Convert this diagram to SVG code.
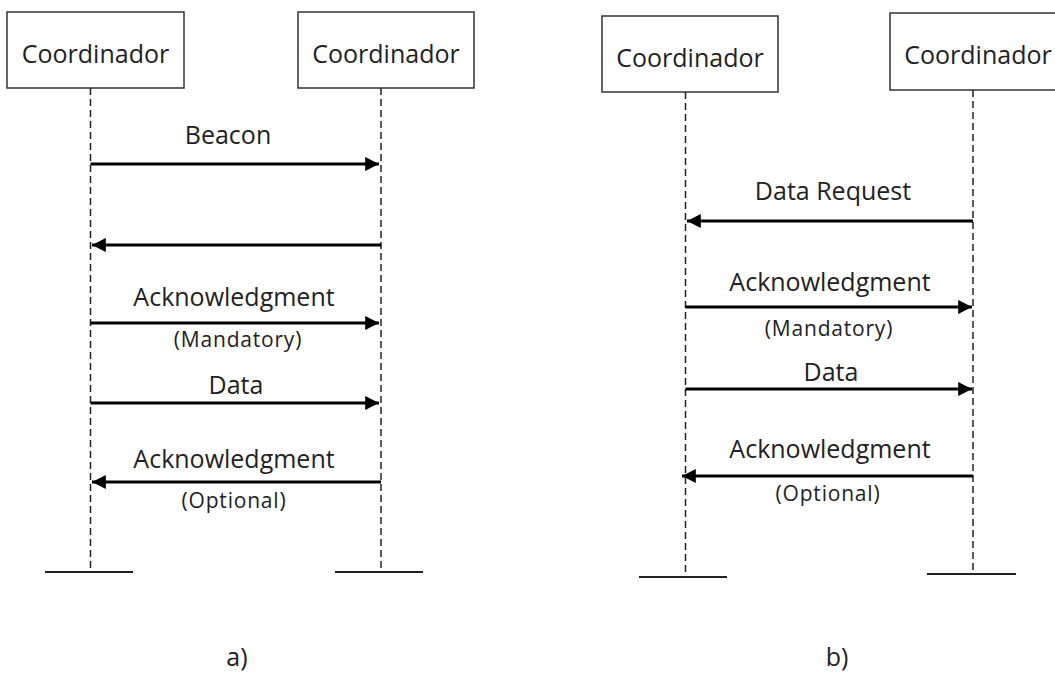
<svg xmlns="http://www.w3.org/2000/svg" width="1055" height="674" viewBox="0 0 1055 674">
  <style>
    .box { fill: #fff; stroke: #333; stroke-width: 1.5; }
    .life { stroke: #222; stroke-width: 1.5; stroke-dasharray: 7 4; fill: none; }
    .end { stroke: #222; stroke-width: 2; }
    .msg { stroke: #000; stroke-width: 3; fill: none; }
    .t { font-family: "Open Sans", "Liberation Sans", sans-serif; fill: #222; text-anchor: middle; }
    .name { font-size: 25px; }
    .lbl { font-size: 25px; }
    .sub { font-size: 21px; letter-spacing: 0.8px; }
  </style>
  <defs>
    <marker id="head" viewBox="0 0 10 10" refX="10" refY="5" markerWidth="5" markerHeight="4.6" orient="auto" markerUnits="strokeWidth">
      <path d="M0,0 L10,5 L0,10 z" fill="#000"/>
    </marker>
  </defs>

  <!-- panel a: lifelines -->
  <g id="a-coord-left">
    <rect class="box" x="7" y="12" width="177" height="76"/>
    <text class="t name" x="95.5" y="63">Coordinador</text>
    <line class="life" x1="90.5" y1="88" x2="90.5" y2="572"/>
    <line class="end" x1="45" y1="572" x2="133" y2="572"/>
  </g>
  <g id="a-coord-right">
    <rect class="box" x="298" y="12" width="176" height="76"/>
    <text class="t name" x="386" y="63">Coordinador</text>
    <line class="life" x1="381" y1="88" x2="381" y2="572"/>
    <line class="end" x1="335" y1="572" x2="423" y2="572"/>
  </g>

  <!-- panel b: lifelines -->
  <g id="b-coord-left">
    <rect class="box" x="602" y="16" width="176" height="76"/>
    <text class="t name" x="690" y="67">Coordinador</text>
    <line class="life" x1="685.5" y1="92" x2="685.5" y2="577"/>
    <line class="end" x1="639" y1="577" x2="727" y2="577"/>
  </g>
  <g id="b-coord-right">
    <rect class="box" x="890" y="13" width="176" height="77"/>
    <text class="t name" x="978" y="64">Coordinador</text>
    <line class="life" x1="973" y1="90" x2="973" y2="574"/>
    <line class="end" x1="927" y1="574" x2="1016" y2="574"/>
  </g>

  <!-- messages -->
  <g id="connectors">
    <line class="msg" x1="90.5" y1="164" x2="379" y2="164" marker-end="url(#head)"/>
    <line class="msg" x1="381" y1="245" x2="92" y2="245" marker-end="url(#head)"/>
    <line class="msg" x1="90.5" y1="323" x2="379" y2="323" marker-end="url(#head)"/>
    <line class="msg" x1="90.5" y1="403" x2="379" y2="403" marker-end="url(#head)"/>
    <line class="msg" x1="381" y1="482" x2="92" y2="482" marker-end="url(#head)"/>

    <line class="msg" x1="973" y1="221" x2="687" y2="221" marker-end="url(#head)"/>
    <line class="msg" x1="685.5" y1="307" x2="972" y2="307" marker-end="url(#head)"/>
    <line class="msg" x1="685.5" y1="389" x2="972" y2="389" marker-end="url(#head)"/>
    <line class="msg" x1="973" y1="476" x2="682" y2="476" marker-end="url(#head)"/>
  </g>

  <!-- message labels -->
  <g id="labels">
    <text class="t lbl" x="228" y="144">Beacon</text>
    <text class="t lbl" x="234" y="306">Acknowledgment</text>
    <text class="t sub" x="238" y="347">(Mandatory)</text>
    <text class="t lbl" x="236" y="394">Data</text>
    <text class="t lbl" x="234" y="468">Acknowledgment</text>
    <text class="t sub" x="234" y="508">(Optional)</text>

    <text class="t lbl" x="833" y="200">Data Request</text>
    <text class="t lbl" x="830" y="291">Acknowledgment</text>
    <text class="t sub" x="829" y="336">(Mandatory)</text>
    <text class="t lbl" x="831" y="381">Data</text>
    <text class="t lbl" x="830" y="458">Acknowledgment</text>
    <text class="t sub" x="828" y="501">(Optional)</text>

    <text class="t lbl" x="237" y="666">a)</text>
    <text class="t lbl" x="837" y="666">b)</text>
  </g>
</svg>
